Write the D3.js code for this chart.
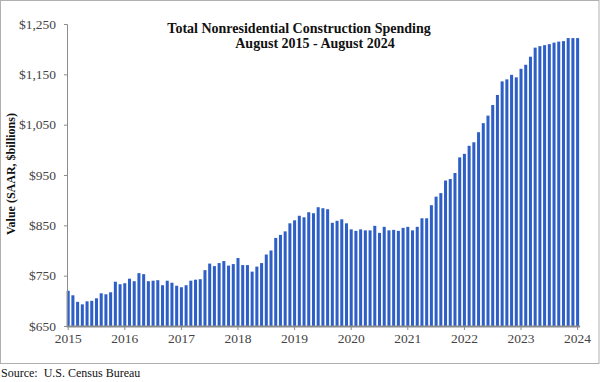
<!DOCTYPE html>
<html>
<head>
<meta charset="utf-8">
<script src="https://cdn.jsdelivr.net/npm/d3@7"></script>
<style>
  html, body { margin: 0; padding: 0; background: #fff; }
  svg { display: block; }
  text { font-family: "Liberation Serif", "Times New Roman", serif; }
</style>
</head>
<body>
<svg id="chart" width="600" height="382"></svg>
<script>
// ---- Data (monthly, SAAR, $ billions) ----
const startMonth = "2015-08";
const values = [
  720, 711, 698, 693, 699, 700, 705, 715, 713, 717, 738, 733,
  735, 744, 739, 755, 753, 739, 740, 741, 731, 740, 736, 730,
  727, 731, 740, 742, 743, 761, 774, 769, 775, 779, 770, 773,
  785, 771, 771, 758, 768, 775, 792, 800, 825, 831, 838, 854,
  860, 869, 866, 876, 874, 886, 884, 882, 855, 859, 862, 854,
  842, 839, 842, 840, 840, 849, 835, 847, 840, 841, 839, 845,
  847, 840, 847, 864, 864, 890, 907, 914, 939, 942, 954, 985,
  992, 1008, 1015, 1035, 1053, 1068, 1089, 1109, 1136, 1140, 1149, 1144,
  1161, 1169, 1185, 1203, 1206, 1208, 1210, 1213, 1215, 1216, 1222, 1222,
  1222
];
const yearLabels = ["2015","2016","2017","2018","2019","2020","2021","2022","2023","2024"];
const yTicks = [650, 750, 850, 950, 1050, 1150, 1250];
const titleLines = ["Total Nonresidential Construction Spending", "August 2015 - August 2024"];
const yAxisTitle = "Value (SAAR, $billions)";
const sourceText = "Source:  U.S. Census Bureau";

// categories: one per month starting Aug 2015
const parse = d3.timeParse("%Y-%m");
const fmt = d3.timeFormat("%Y-%m");
const categories = values.map((v, i) => fmt(d3.timeMonth.offset(parse(startMonth), i)));

const svg = d3.select("#chart");

// frame
svg.append("rect")
  .attr("x", 0.5).attr("y", 0.5).attr("width", 598.5).attr("height", 363)
  .attr("fill", "#fff").attr("stroke", "#b0b0b0").attr("stroke-width", 1);

const x = d3.scaleBand()
  .domain(categories)
  .range([66.2, 579.6])
  .paddingInner(0.36)
  .paddingOuter(0.1);

const y = d3.scaleLinear().domain([650, 1250]).range([326, 24]);

// bars
svg.append("g").selectAll("rect")
  .data(values)
  .join("rect")
  .attr("x", (d, i) => x(categories[i]))
  .attr("width", x.bandwidth())
  .attr("y", d => y(d))
  .attr("height", d => y(650) - y(d))
  .attr("fill", "#2d5fc6");

// y axis
const yAxis = d3.axisLeft(y)
  .tickValues(yTicks)
  .tickSize(3)
  .tickPadding(8)
  .tickFormat(d => "$" + d3.format(",")(d));
const gy = svg.append("g").attr("transform", "translate(67,0)").call(yAxis);
gy.select(".domain").attr("stroke", "#8c8c8c");
gy.selectAll(".tick line").attr("stroke", "#8c8c8c");
gy.selectAll(".tick text")
  .attr("font-family", "Liberation Serif, Times New Roman, serif")
  .attr("font-size", 13.5).attr("fill", "#444");

// x axis baseline
const yearIdx = yearLabels.map((t, k) => k * 12);
const xAxis = d3.axisBottom(x)
  .tickValues(yearIdx.map(i => categories[i]))
  .tickFormat((d, k) => yearLabels[k])
  .tickSize(4)
  .tickSizeOuter(0)
  .tickPadding(3);
const gx = svg.append("g").attr("transform", "translate(0,326)").call(xAxis);
gx.select(".domain").attr("stroke", "#8c8c8c").attr("stroke-width", 2);
gx.selectAll(".tick line").attr("stroke", "#8c8c8c");
gx.selectAll(".tick text")
  .attr("font-family", "Liberation Serif, Times New Roman, serif")
  .attr("font-size", 13.5).attr("fill", "#444");

// title
svg.append("text")
  .attr("x", 299).attr("y", 33)
  .attr("text-anchor", "middle")
  .attr("font-weight", "bold").attr("font-size", 14).attr("fill", "#111")
  .text(titleLines[0]);
svg.append("text")
  .attr("x", 315).attr("y", 48)
  .attr("text-anchor", "middle")
  .attr("font-weight", "bold").attr("font-size", 14).attr("fill", "#111")
  .text(titleLines[1]);

// y axis title
svg.append("text")
  .attr("transform", "translate(15,174) rotate(-90)")
  .attr("text-anchor", "middle")
  .attr("font-weight", "bold").attr("font-size", 12).attr("fill", "#111")
  .text(yAxisTitle);

// source
svg.append("text")
  .attr("x", 1).attr("y", 377)
  .attr("font-size", 12).attr("fill", "#111")
  .style("white-space", "pre")
  .text(sourceText);
</script>
</body>
</html>
